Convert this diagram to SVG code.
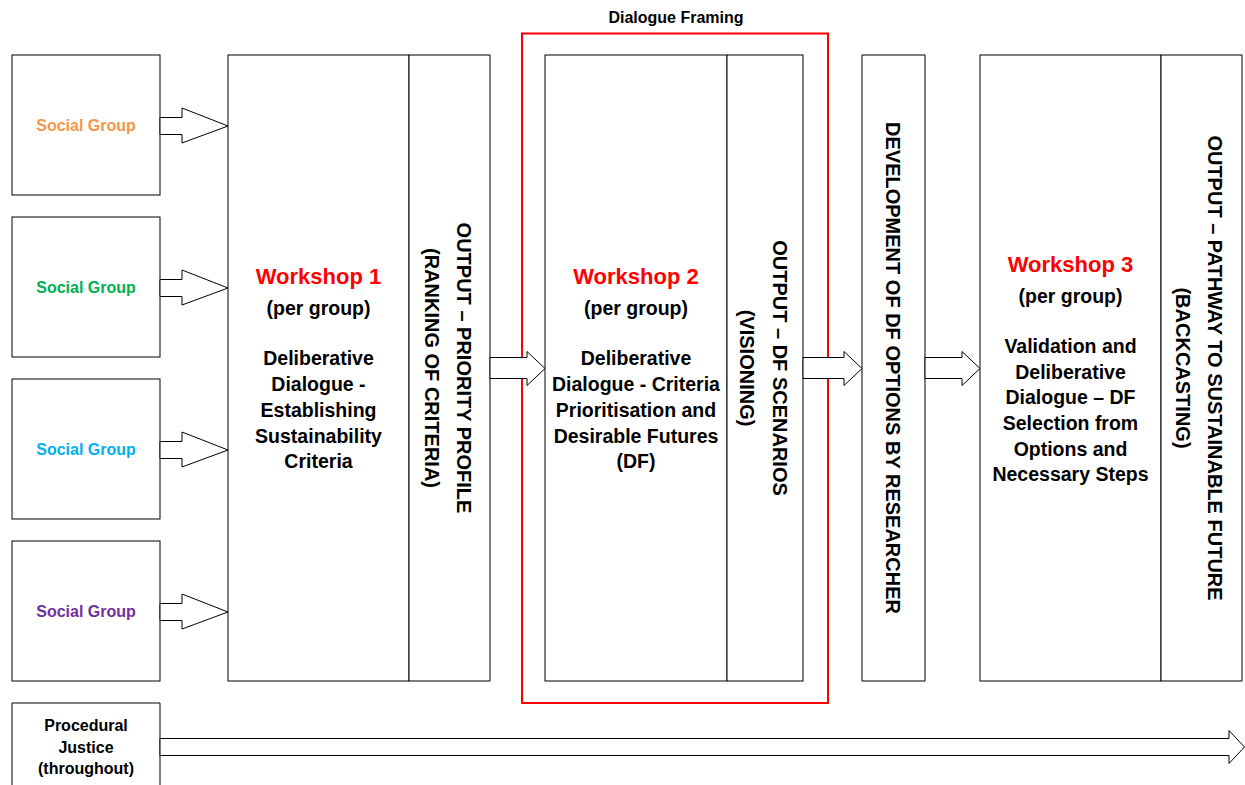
<svg xmlns="http://www.w3.org/2000/svg" width="1245" height="785" viewBox="0 0 1245 785">
<style>
.box{fill:#fff;stroke:#000;stroke-width:1}
.line{fill:#fff;stroke:#000;stroke-width:1}
.arrow{fill:#fff;stroke:#000;stroke-width:1;stroke-linejoin:miter}
text{font-family:"Liberation Sans",Arial,sans-serif;font-weight:bold;text-anchor:middle;fill:#000}
.sg{font-size:16px}
.title{font-size:22px;fill:#ff0000}
.body{font-size:19.5px}
.vert{font-size:20px}
.small{font-size:16px}
</style>
<rect width="1245" height="785" fill="#fff"/>
<g id="social-group-1">
<rect class="box" x="12" y="55" width="148" height="140"/>
<text class="sg" x="86" y="131" style="fill:#F79646">Social Group</text>
</g>
<g id="social-group-2">
<rect class="box" x="12" y="217" width="148" height="140"/>
<text class="sg" x="86" y="293" style="fill:#00B050">Social Group</text>
</g>
<g id="social-group-3">
<rect class="box" x="12" y="379" width="148" height="140"/>
<text class="sg" x="86" y="455" style="fill:#00B0F0">Social Group</text>
</g>
<g id="social-group-4">
<rect class="box" x="12" y="541" width="148" height="140"/>
<text class="sg" x="86" y="617" style="fill:#7030A0">Social Group</text>
</g>
<g id="workshop-1">
<rect class="box" x="228" y="55" width="181" height="626"/>
<text class="title" x="318.5" y="284">Workshop 1</text>
<text class="body" x="318.5" y="315">(per group)</text>
<text class="body" x="318.5" y="365">Deliberative</text>
<text class="body" x="318.5" y="391">Dialogue -</text>
<text class="body" x="318.5" y="417">Establishing</text>
<text class="body" x="318.5" y="443">Sustainability</text>
<text class="body" x="318.5" y="468">Criteria</text>
</g>
<g id="output-1">
<rect class="box" x="409" y="55" width="81" height="626"/>
<text class="vert" transform="translate(457,368) rotate(90)">OUTPUT – PRIORITY PROFILE</text>
<text class="vert" transform="translate(425,368) rotate(90)">(RANKING OF CRITERIA)</text>
</g>
<g id="dialogue-framing">
<rect x="522" y="33.5" width="306" height="669.5" fill="none" stroke="#ff0000" stroke-width="2"/>
<text class="small" x="676" y="23">Dialogue Framing</text>
</g>
<g id="workshop-2">
<rect class="box" x="545" y="55" width="182" height="626"/>
<text class="title" x="636" y="284">Workshop 2</text>
<text class="body" x="636" y="315">(per group)</text>
<text class="body" x="636" y="365">Deliberative</text>
<text class="body" x="636" y="391">Dialogue - Criteria</text>
<text class="body" x="636" y="417">Prioritisation and</text>
<text class="body" x="636" y="443">Desirable Futures</text>
<text class="body" x="636" y="468">(DF)</text>
</g>
<g id="output-2">
<rect class="box" x="727" y="55" width="76" height="626"/>
<text class="vert" transform="translate(773,368) rotate(90)">OUTPUT – DF SCENARIOS</text>
<text class="vert" transform="translate(740,368) rotate(90)">(VISIONING)</text>
</g>
<g id="development">
<rect class="box" x="862" y="55" width="63" height="626"/>
<text class="vert" transform="translate(886,368) rotate(90)">DEVELOPMENT OF DF OPTIONS BY RESEARCHER</text>
</g>
<g id="workshop-3">
<rect class="box" x="980" y="55" width="181" height="626"/>
<text class="title" x="1070.5" y="272">Workshop 3</text>
<text class="body" x="1070.5" y="303">(per group)</text>
<text class="body" x="1070.5" y="353">Validation and</text>
<text class="body" x="1070.5" y="379">Deliberative</text>
<text class="body" x="1070.5" y="404">Dialogue – DF</text>
<text class="body" x="1070.5" y="430">Selection from</text>
<text class="body" x="1070.5" y="456">Options and</text>
<text class="body" x="1070.5" y="481">Necessary Steps</text>
</g>
<g id="output-3">
<rect class="box" x="1161" y="55" width="81" height="626"/>
<text class="vert" transform="translate(1208,368) rotate(90)">OUTPUT – PATHWAY TO SUSTAINABLE FUTURE</text>
<text class="vert" transform="translate(1176,368) rotate(90)">(BACKCASTING)</text>
</g>
<g id="procedural-justice">
<path class="line" d="M12,795 V703 H160 V795"/>
<text class="small" x="86" y="731">Procedural</text>
<text class="small" x="86" y="753">Justice</text>
<text class="small" x="86" y="774">(throughout)</text>
</g>
<g id="connectors">
<polygon class="arrow" points="160,117.5 182,117.5 182,108 228,126 182,143 182,134.5 160,134.5"/>
<polygon class="arrow" points="160,279.5 182,279.5 182,270 228,288 182,305 182,296.5 160,296.5"/>
<polygon class="arrow" points="160,441.5 182,441.5 182,432 228,450 182,467 182,458.5 160,458.5"/>
<polygon class="arrow" points="160,603.5 182,603.5 182,594 228,612 182,629 182,620.5 160,620.5"/>
<polygon class="arrow" points="490,357.5 527,357.5 527,351.5 545,368.5 527,385.5 527,378.5 490,378.5"/>
<polygon class="arrow" points="803,357.5 844,357.5 844,351.5 862,368.5 844,385.5 844,378.5 803,378.5"/>
<polygon class="arrow" points="925,357.5 962,357.5 962,351.5 980,368.5 962,385.5 962,378.5 925,378.5"/>
<polygon class="arrow" points="160,738.5 1229,738.5 1229,730.5 1244.5,747 1229,763.5 1229,755.5 160,755.5"/>
</g>
</svg>
